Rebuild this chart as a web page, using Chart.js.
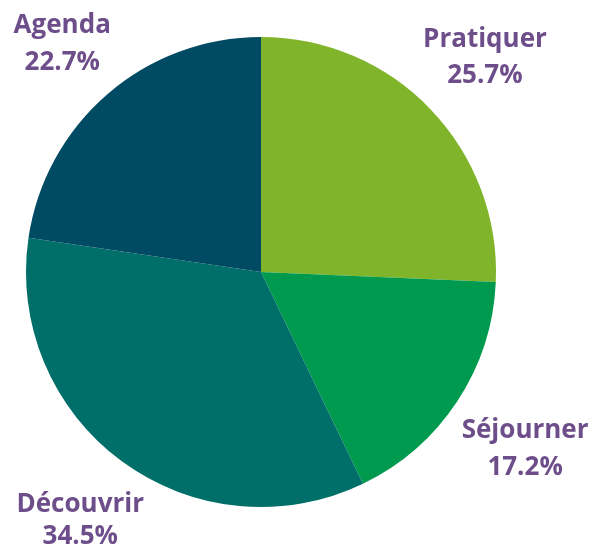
<!DOCTYPE html>
<html>
<head>
<meta charset="utf-8">
<script src="https://cdn.jsdelivr.net/npm/chart.js@4/dist/chart.umd.min.js"></script>
<style>
html,body{margin:0;padding:0;background:#fff;}
canvas{display:block;}
</style>
</head>
<body>
<canvas id="c" width="595" height="545"></canvas>
<script>
const categories = ["Pratiquer", "Séjourner", "Découvrir", "Agenda"];
const values = [25.7, 17.2, 34.5, 22.7];
const colors = ["#80b42a", "#009a4e", "#006f69", "#004b63"];

// label placement tweaks: [dx, dy, half line gap]
const labelNudge = [[0, 0, 18], [5, 7, 18.5], [3, -1, 16], [4, 7, 18.5]];

const labelPlugin = {
  id: 'outerLabels',
  afterDatasetsDraw(chart) {
    const ctx = chart.ctx;
    const meta = chart.getDatasetMeta(0);
    ctx.save();
    ctx.font = 'bold 26px "Open Sans", sans-serif';
    ctx.fillStyle = '#6d4e8a';
    ctx.textAlign = 'center';
    ctx.textBaseline = 'middle';
    meta.data.forEach((arc, i) => {
      const mid = (arc.startAngle + arc.endAngle) / 2;
      const r = arc.outerRadius * 1.32;
      const n = labelNudge[i];
      const x = arc.x + Math.cos(mid) * r + n[0];
      const y = arc.y + Math.sin(mid) * r + n[1];
      ctx.fillText(categories[i], x, y - n[2]);
      ctx.fillText(values[i].toFixed(1) + '%', x, y + n[2]);
    });
    ctx.restore();
  }
};

new Chart(document.getElementById('c'), {
  type: 'pie',
  data: {
    labels: categories,
    datasets: [{
      data: values,
      backgroundColor: colors,
      borderWidth: 0
    }]
  },
  options: {
    responsive: false,
    devicePixelRatio: 1,
    animation: false,
    layout: { padding: { left: 26, right: 99, top: 37, bottom: 38 } },
    plugins: { legend: { display: false }, tooltip: { enabled: false } }
  },
  plugins: [labelPlugin]
});
</script>
</body>
</html>
